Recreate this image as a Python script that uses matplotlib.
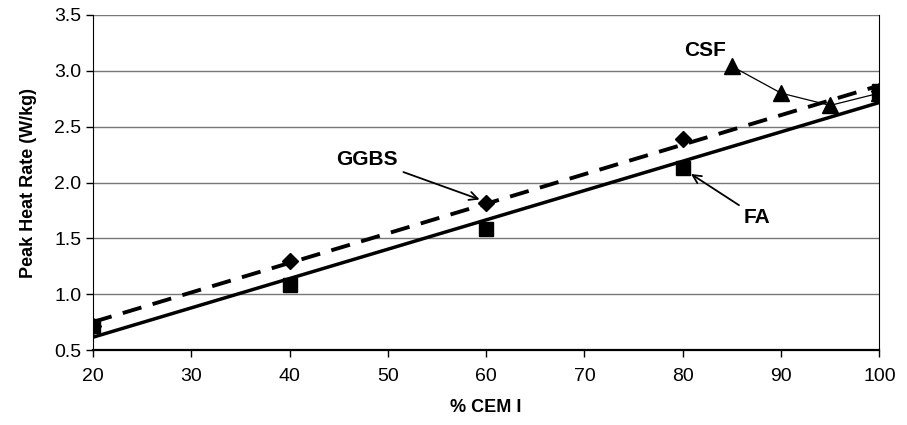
import numpy as np
import matplotlib.pyplot as plt

plt.rcParams['font.family'] = ['Liberation Sans', 'DejaVu Sans']

# data
cem = [20, 40, 60, 80, 100]
ggbs = [0.72, 1.30, 1.82, 2.39, 2.82]
fa = [0.72, 1.08, 1.58, 2.13, 2.82]
csf_x = [85, 90, 95, 100]
csf = [3.04, 2.80, 2.69, 2.80]

fig = plt.figure(figsize=(9.07, 4.25), dpi=100)
ax = fig.add_axes([0.1025, 0.176, 0.867, 0.789])

# linear trend lines
xs = np.array([20, 100])
k, b = np.polyfit(cem, ggbs, 1)
ax.plot(xs, k * xs + b, color='black', lw=2.8, ls=(0, (5, 3)), zorder=3)
k, b = np.polyfit(cem, fa, 1)
ax.plot(xs, k * xs + b, color='black', lw=2.5, zorder=3)

ax.plot(csf_x, csf, color='black', lw=0.9, zorder=3)

ax.plot(csf_x, csf, ls='none', marker='^', ms=12, color='black', zorder=4)
ax.plot(cem, ggbs, ls='none', marker='D', ms=8, color='black', zorder=4)
ax.plot(cem, fa, ls='none', marker='s', ms=10, color='black', zorder=5)

ax.set_xlim(20, 100)
ax.set_ylim(0.5, 3.5)
ax.set_xticks(range(20, 101, 10))
ax.set_yticks(np.arange(0.5, 3.51, 0.5))
ax.set_yticklabels([f'{v:.1f}' for v in np.arange(0.5, 3.51, 0.5)])
ax.yaxis.grid(True, color='#777777', lw=1)
ax.set_axisbelow(True)
ax.tick_params(labelsize=14, direction='out', length=5, width=1)
ax.tick_params(axis='x', pad=8)
for s in ['left', 'right', 'bottom']:
    ax.spines[s].set_color('black')
ax.spines['bottom'].set_linewidth(1.6)
ax.spines['top'].set_visible(False)

ax.set_xlabel('% CEM I', fontsize=13, fontweight='bold', labelpad=10)
ax.set_ylabel('Peak Heat Rate (W/kg)', fontsize=13, fontweight='bold',
              labelpad=12)

arrow = dict(arrowstyle='->', color='black', lw=1.3)
ax.annotate('GGBS', xy=(59.6, 1.84), xytext=(47.9, 2.21), fontsize=15,
            fontweight='bold', ha='center', va='center', arrowprops=arrow)
ax.annotate('FA', xy=(80.6, 2.09), xytext=(87.6, 1.69), fontsize=15,
            fontweight='bold', ha='center', va='center', arrowprops=arrow)
ax.text(82.3, 3.18, 'CSF', fontsize=15, fontweight='bold', ha='center',
        va='center')

plt.savefig('out.png', dpi=100)
